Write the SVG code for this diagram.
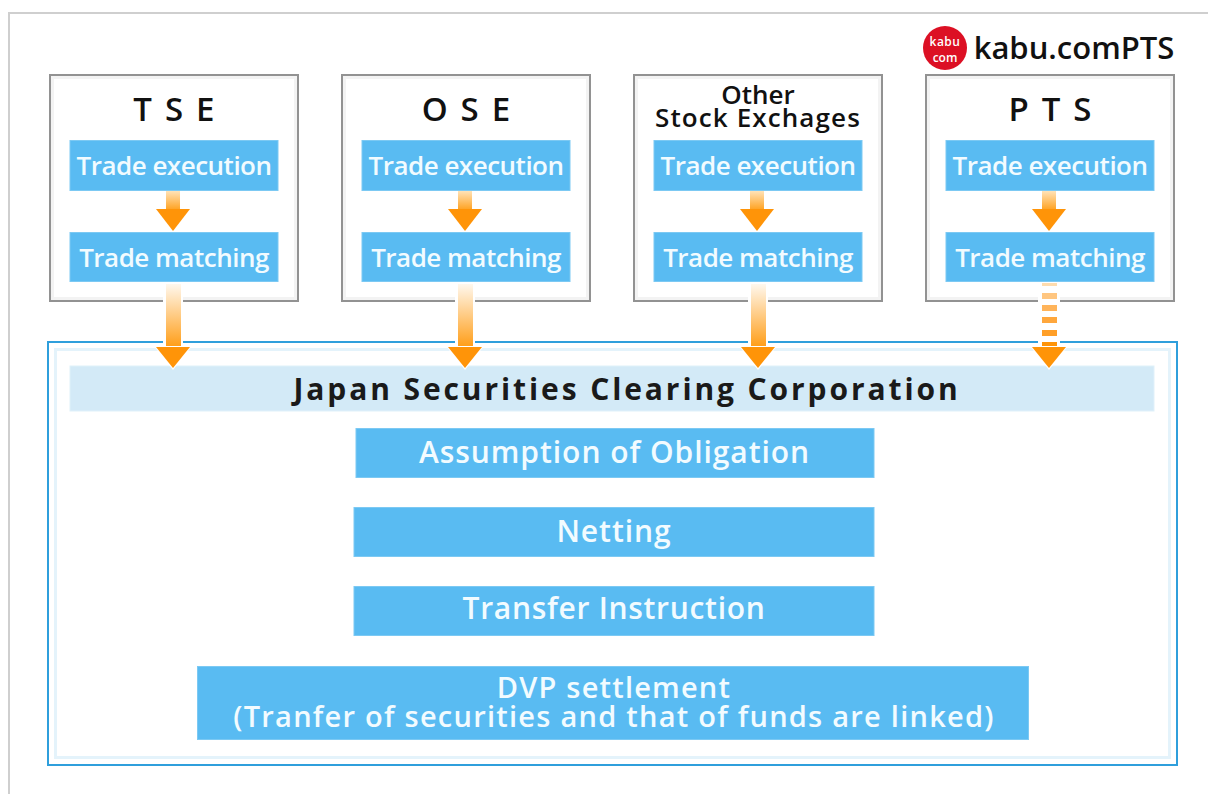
<svg xmlns="http://www.w3.org/2000/svg" width="1208" height="794" viewBox="0 0 1208 794">
<style>
text{font-family:"Open Sans","Noto Sans","Liberation Sans",sans-serif;text-anchor:middle}
.blue{fill:#59bbf2;stroke:#7cc9f3;stroke-width:1}
.w{fill:#f2fbff;font-weight:600}
.s{font-size:26px;letter-spacing:-.5px}
.l{font-size:30px;letter-spacing:.95px}
.k{fill:#111;font-weight:600}
.t{font-size:33px;letter-spacing:2.2px}
.o{font-size:26px;letter-spacing:1.1px}
.exch{fill:#fff;stroke:#929292;stroke-width:2}
.exin{fill:none;stroke:#f3f3f3;stroke-width:3}
.head{fill:#ff9408}
</style>
<defs>
<linearGradient id="gs" x1="0" y1="0" x2="0" y2="1"><stop offset="0" stop-color="#ffe3b8"/><stop offset="1" stop-color="#ffa11f"/></linearGradient>
<linearGradient id="gl" x1="0" y1="0" x2="0" y2="1"><stop offset="0" stop-color="#fff8ee"/><stop offset="1" stop-color="#ff9c14"/></linearGradient>
<g id="small"><rect x="-7" y="191" width="14" height="19" fill="url(#gs)"/><path class="head" d="M-17 209H17L0 231Z"/></g>
<g id="big"><rect x="-10" y="283" width="20" height="64" fill="#fff"/><rect x="-7" y="284" width="15" height="64" fill="url(#gl)"/><path d="M-19 346H19L0 370Z" fill="#fff"/><path class="head" d="M-17 347H17L0 368Z"/></g>
</defs>
<path d="M1208 13H9V794" fill="none" stroke="#cfcfcf" stroke-width="2"/>
<g id="jscc">
<rect x="48" y="342" width="1129" height="423" fill="#fff" stroke="#2f9fdc" stroke-width="2"/>
<rect x="55.500" y="349.500" width="1114" height="408" fill="none" stroke="#e4f3fb" stroke-width="3"/>
</g>
<g id="tse"><rect class="exch" x="50" y="75" width="248" height="226"/><rect class="exin" x="52.500" y="77.500" width="243" height="221"/><text class="k t" x="175" y="121">T S E</text><rect class="blue" x="70" y="140.500" width="208" height="50"/><text class="w s" x="174" y="175">Trade execution</text><rect class="blue" x="70" y="232.500" width="208" height="49"/><text class="w s" x="174" y="267">Trade matching</text></g>
<g id="ose"><rect class="exch" x="342" y="75" width="248" height="226"/><rect class="exin" x="344.500" y="77.500" width="243" height="221"/><text class="k t" x="467" y="121">O S E</text><rect class="blue" x="362" y="140.500" width="208" height="50"/><text class="w s" x="466" y="175">Trade execution</text><rect class="blue" x="362" y="232.500" width="208" height="49"/><text class="w s" x="466" y="267">Trade matching</text></g>
<g id="other"><rect class="exch" x="634" y="75" width="248" height="226"/><rect class="exin" x="636.500" y="77.500" width="243" height="221"/><text class="k" x="758" y="104" font-size="26">Other</text><text class="k o" x="758" y="127">Stock Exchages</text><rect class="blue" x="654" y="140.500" width="208" height="50"/><text class="w s" x="758" y="175">Trade execution</text><rect class="blue" x="654" y="232.500" width="208" height="49"/><text class="w s" x="758" y="267">Trade matching</text></g>
<g id="pts"><rect class="exch" x="926" y="75" width="248" height="226"/><rect class="exin" x="928.500" y="77.500" width="243" height="221"/><text class="k t" x="1051" y="121">P T S</text><rect class="blue" x="946" y="140.500" width="208" height="50"/><text class="w s" x="1050" y="175">Trade execution</text><rect class="blue" x="946" y="232.500" width="208" height="49"/><text class="w s" x="1050" y="267">Trade matching</text></g>
<g id="logo"><circle cx="945" cy="48" r="22" fill="#dc1024"/><text x="945" y="46" font-size="12" font-weight="600" fill="#fff" letter-spacing=".5">kabu</text><text x="945" y="62" font-size="12" font-weight="600" fill="#fff">com</text><text x="1074" y="59" font-size="31" font-weight="600" fill="#111">kabu.comPTS</text></g>
<g id="jscc-title"><rect x="70" y="366" width="1084" height="45" fill="#d3eaf7" stroke="#e0f1fa"/><text x="627" y="400" font-size="30" font-weight="700" fill="#1a1a1a" letter-spacing="2.900">Japan Securities Clearing Corporation</text></g>
<g id="connectors">
<use href="#small" x="173"/><use href="#small" x="465"/><use href="#small" x="757"/><use href="#small" x="1049"/>
<use href="#big" x="173"/><use href="#big" x="465"/><use href="#big" x="758"/>
<g id="dashed"><rect x="1038" y="283" width="22" height="65" fill="#fff"/>
<rect x="1042" y="283" width="15" height="3" fill="#ffdcae"/><rect x="1042" y="293" width="15" height="6" fill="#ffc680"/><rect x="1042" y="305" width="15" height="6" fill="#ffb45a"/><rect x="1042" y="317" width="15" height="6" fill="#ffa73c"/><rect x="1042" y="330" width="15" height="6" fill="#ff9f28"/><rect x="1042" y="342" width="15" height="6" fill="#ff9408"/>
<path d="M1030 346H1068L1049 370Z" fill="#fff"/><path class="head" d="M1032 347H1066L1049 368Z"/></g>
</g>
<g id="assumption"><rect class="blue" x="356" y="428.500" width="518" height="49"/><text class="w l" x="614.500" y="463">Assumption of Obligation</text></g>
<g id="netting"><rect class="blue" x="354" y="507.500" width="520" height="49"/><text class="w l" x="614" y="542">Netting</text></g>
<g id="transfer"><rect class="blue" x="354" y="586.500" width="520" height="49"/><text class="w" font-size="30" letter-spacing=".7" x="614" y="619">Transfer Instruction</text></g>
<g id="dvp"><rect class="blue" x="197.500" y="666.500" width="831" height="73"/><text class="w" font-size="29" letter-spacing="1.2" x="614" y="698">DVP settlement</text><text class="w" font-size="29" letter-spacing="1.25" x="614" y="727">(Tranfer of securities and that of funds are linked)</text></g>
</svg>
